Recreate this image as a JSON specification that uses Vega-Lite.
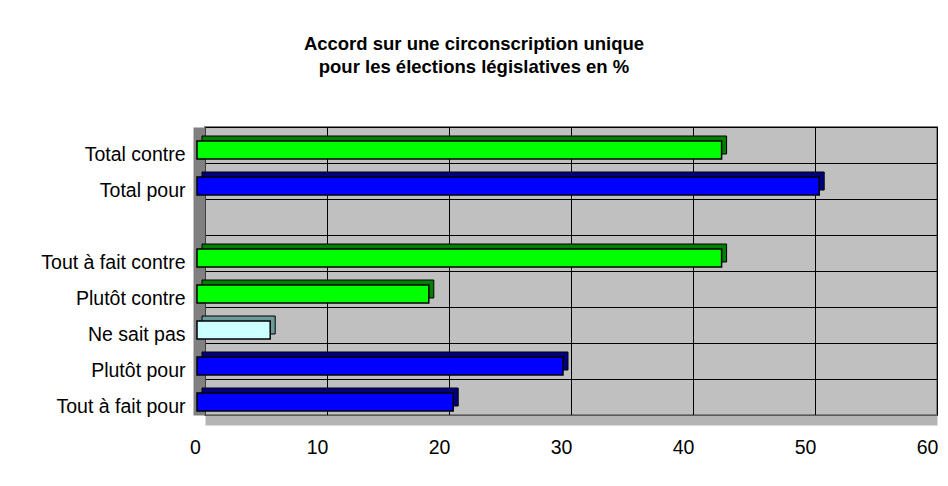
{
  "$schema": "https://vega.github.io/schema/vega-lite/v6.json",
  "autosize": "none",
  "width": 732,
  "height": 288,
  "padding": {"left": 205, "top": 127, "right": 11, "bottom": 71},
  "background": "white",
  "title": {
    "text": ["Accord sur une circonscription unique", "pour les élections législatives en %"],
    "font": "Liberation Sans",
    "fontSize": 18.5,
    "fontWeight": "bold",
    "color": "black",
    "lineHeight": 23,
    "anchor": "middle",
    "dx": -97,
    "offset": 41
  },
  "data": {
    "values": [
      {"reponse": "Total contre", "valeur": 43, "camp": "contre"},
      {"reponse": "Total pour", "valeur": 51, "camp": "pour"},
      {"reponse": "Tout à fait contre", "valeur": 43, "camp": "contre"},
      {"reponse": "Plutôt contre", "valeur": 19, "camp": "contre"},
      {"reponse": "Ne sait pas", "valeur": 6, "camp": "nsp"},
      {"reponse": "Plutôt pour", "valeur": 30, "camp": "pour"},
      {"reponse": "Tout à fait pour", "valeur": 21, "camp": "pour"}
    ]
  },
  "encoding": {
    "y": {
      "field": "reponse",
      "type": "nominal",
      "sort": null,
      "scale": {
        "domain": ["Total contre", "Total pour", " ", "Tout à fait contre", "Plutôt contre", "Ne sait pas", "Plutôt pour", "Tout à fait pour"],
        "paddingInner": 0,
        "paddingOuter": 0
      },
      "axis": {
        "title": null,
        "orient": "left",
        "offset": 6,
        "domain": true,
        "domainColor": "#808080",
        "domainWidth": 12,
        "ticks": false,
        "grid": true,
        "gridColor": "black",
        "gridWidth": 1,
        "gridOpacity": 1,
        "tickBand": "extent",
        "labelPadding": 14,
        "labelOffset": 9,
        "labelFont": "Liberation Sans",
        "labelFontSize": 19.5,
        "labelColor": "black",
        "labelAlign": "right"
      }
    },
    "x": {
      "field": "valeur",
      "type": "quantitative",
      "scale": {"domain": [0, 60], "nice": false, "zero": true},
      "axis": {
        "title": null,
        "values": [0, 10, 20, 30, 40, 50, 60],
        "offset": 5,
        "domain": true,
        "domainColor": "#B4B4B4",
        "domainWidth": 10,
        "ticks": false,
        "grid": true,
        "gridColor": "black",
        "gridWidth": 1,
        "gridOpacity": 1,
        "labelPadding": 18,
        "labelOffset": -10,
        "labelFont": "Liberation Sans",
        "labelFontSize": 19.5,
        "labelColor": "black",
        "labelFlush": false
      }
    }
  },
  "layer": [
    {
      "mark": {
        "type": "bar",
        "height": {"band": 0.5},
        "stroke": "black",
        "strokeWidth": 1,
        "xOffset": -3,
        "x2Offset": -3,
        "yOffset": 0,
        "y2Offset": 0
      },
      "encoding": {
        "color": {
          "field": "camp",
          "type": "nominal",
          "legend": null,
          "scale": {"domain": ["pour", "contre", "nsp"], "range": ["#00007F", "#007F00", "#6E9A9A"]}
        }
      }
    },
    {
      "mark": {
        "type": "bar",
        "height": {"band": 0.5},
        "stroke": "black",
        "strokeWidth": 1.5,
        "xOffset": -8,
        "x2Offset": -8,
        "yOffset": 5,
        "y2Offset": 5
      },
      "encoding": {
        "color": {
          "field": "camp",
          "type": "nominal",
          "legend": null,
          "scale": {"domain": ["pour", "contre", "nsp"], "range": ["#0000FF", "#00FF00", "#CCFFFF"]}
        }
      }
    }
  ],
  "resolve": {"scale": {"color": "independent"}},
  "config": {
    "view": {"fill": "#C0C0C0", "stroke": "#808080", "strokeWidth": 2},
    "axis": {"zindex": 0}
  }
}
